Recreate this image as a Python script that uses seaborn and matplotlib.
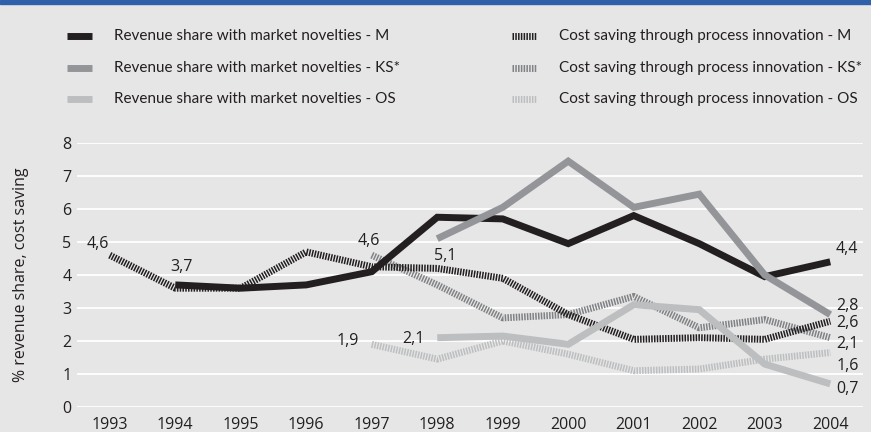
import numpy as np
import pandas as pd
import matplotlib
matplotlib.use("Agg")
import matplotlib.pyplot as plt
from matplotlib.lines import Line2D
from matplotlib.patches import Rectangle
from matplotlib.ticker import FixedLocator
import seaborn as sns

# values (nan = no value that year)
years = list(range(1993, 2005))
rev_m = [np.nan, 3.7, 3.6, 3.7, 4.1, 5.75, 5.7, 4.95, 5.8, 4.95, 3.95, 4.4]
rev_ks = [np.nan] * 5 + [5.1, 6.05, 7.45, 6.05, 6.45, 4.0, 2.8]
rev_os = [np.nan] * 5 + [2.1, 2.15, 1.9, 3.1, 2.95, 1.3, 0.7]
cost_m = [4.6, 3.6, 3.6, 4.7, 4.25, 4.2, 3.9, 2.8, 2.05, 2.1, 2.05, 2.6]
cost_ks = [np.nan] * 4 + [4.6, 3.7, 2.7, 2.8, 3.35, 2.4, 2.65, 2.1]
cost_os = [np.nan] * 4 + [1.9, 1.45, 2.0, 1.6, 1.1, 1.15, 1.45, 1.65]

labels = [
    "Revenue share with market novelties - M",
    "Revenue share with market novelties - KS*",
    "Revenue share with market novelties - OS",
    "Cost saving through process innovation - M",
    "Cost saving through process innovation - KS*",
    "Cost saving through process innovation - OS",
]

# (year, value, text, dx px, dy px)
point_labels = [
    (1993, 4.6, "4,6", -12, 11),
    (1994, 3.7, "3,7", 6, 18),
    (1997, 4.6, "4,6", -3, 14),
    (1998, 5.1, "5,1", 8, -17),
    (1997, 1.9, "1,9", -24, 3),
    (1998, 2.1, "2,1", -24, -1),
    (2004, 4.4, "4,4", 17, 13),
    (2004, 2.8, "2,8", 17, 9),
    (2004, 2.6, "2,6", 17, -2),
    (2004, 2.1, "2,1", 17, -6),
    (2004, 1.65, "1,6", 17, -13),
    (2004, 0.7, "0,7", 17, -5),
]

bg = "#e6e6e6"
c_dark, c_mid, c_light = "#231f20", "#939598", "#bcbec0"
c_hatch_mid = "#808285"
txt = "#231f20"

sns.set_theme(style="whitegrid", rc={
    "axes.facecolor": bg, "figure.facecolor": bg,
    "grid.color": "white", "grid.linewidth": 1.3,
    "lines.scale_dashes": False,
})
plt.rcParams["font.family"] = ["Open Sans", "DejaVu Sans"]

W, H = 871, 432
fig = plt.figure(figsize=(W / 100, H / 100), dpi=100)
ax = fig.add_axes([77 / W, 1 - 407 / H, 786 / W, 264 / H])

lw = 5.0
hatch = (0, (1.1, 0.9))
series = [
    (cost_os, c_light, hatch),
    (cost_ks, c_hatch_mid, hatch),
    (cost_m, c_dark, hatch),
    (rev_m, c_dark, "-"),
    (rev_ks, c_mid, "-"),
    (rev_os, c_light, "-"),
]
for vals, col, ls in series:
    df = pd.DataFrame({"year": years, "value": vals}).dropna()
    sns.lineplot(data=df, x="year", y="value", ax=ax, color=col, linewidth=lw,
                 linestyle=ls, errorbar=None, solid_capstyle="butt",
                 solid_joinstyle="miter", dash_capstyle="butt")

for x, y, t, dx, dy in point_labels:
    ax.annotate(t, xy=(x, y), xytext=(dx, dy), textcoords="offset pixels",
                ha="center", va="center", fontsize=11.5, color=txt)

ax.set_xlim(1992.5, 2004.5)
ax.set_ylim(0, 8)
ax.set_yticks(range(0, 9))
ax.set_xticks(years)
ax.xaxis.set_minor_locator(FixedLocator(np.arange(1992.5, 2005, 1)))
ax.grid(axis="x", visible=False)
ax.grid(axis="y", which="major", visible=True)
ax.tick_params(axis="x", which="major", length=0, pad=7, labelsize=11.5, labelcolor=txt)
ax.tick_params(axis="x", which="minor", length=15, width=1.3, color="#333333", direction="out")
ax.tick_params(axis="y", length=0, pad=4, labelsize=11.5, labelcolor=txt)
ax.set_xlabel("")
ax.set_ylabel("% revenue share, cost saving", fontsize=11.5, color=txt, labelpad=24)
for s in ax.spines.values():
    s.set_visible(False)

# legend, two columns placed by hand
legend_styles = [
    (c_dark, "-"), (c_mid, "-"), (c_light, "-"),
    (c_dark, hatch), (c_hatch_mid, hatch), (c_light, hatch),
]
rows_y = [36, 68, 99]
for i, (lab, (col, ls)) in enumerate(zip(labels, legend_styles)):
    x0 = 67 if i < 3 else 512
    y = 1 - rows_y[i % 3] / H
    fig.add_artist(Line2D([x0 / W, (x0 + 25) / W], [y, y], transform=fig.transFigure,
                          color=col, lw=lw, linestyle=ls, solid_capstyle="butt",
                          dash_capstyle="butt"))
    fig.text((x0 + 47) / W, y, lab, ha="left", va="center", fontsize=11,
             family=["Lato", "DejaVu Sans"], color=txt)

fig.patches.append(Rectangle((0, 1 - 4 / H), 1, 4 / H, transform=fig.transFigure,
                             color="#2f60aa", zorder=5))

fig.savefig("out.png", dpi=100, facecolor=bg)
